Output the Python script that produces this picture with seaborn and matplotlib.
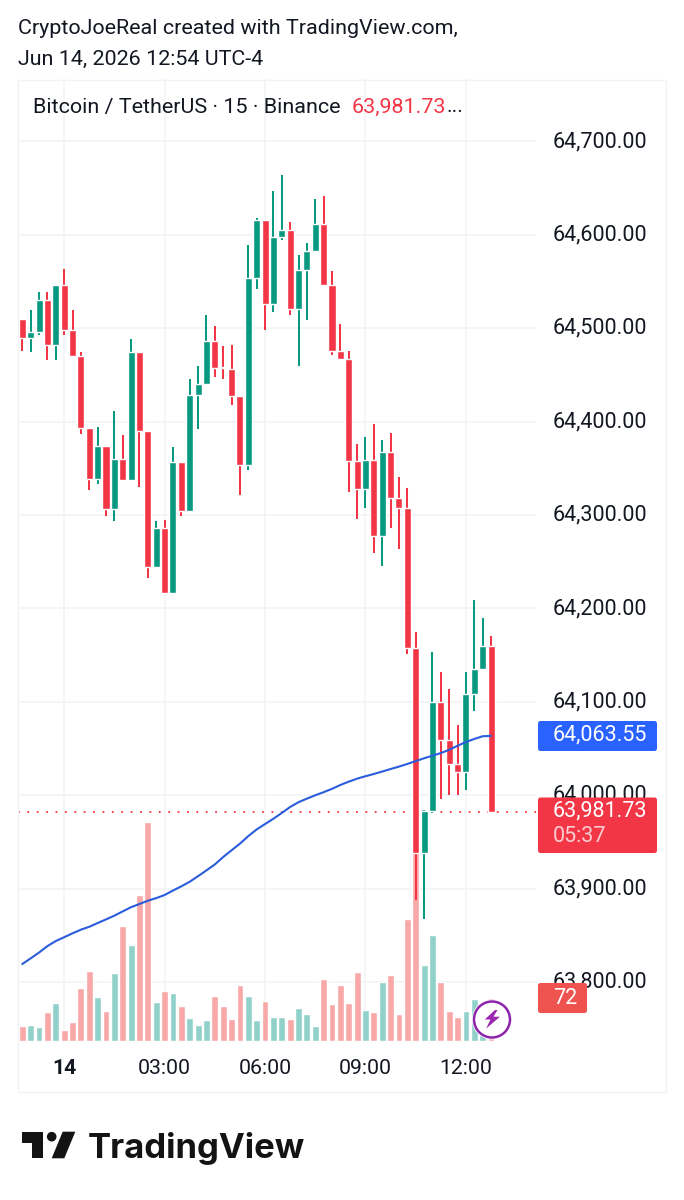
# Bitcoin / TetherUS 15m candles with volume and moving average
import numpy as np
import pandas as pd
import matplotlib.pyplot as plt
from matplotlib.patches import Rectangle, FancyBboxPatch, Circle, Polygon
from matplotlib.transforms import ScaledTranslation
import seaborn as sns

# chart values
open_ = [64510, 64490, 64496, 64530, 64482, 64546, 64498, 64470, 64393, 64339,
         64374, 64307, 64360, 64338, 64475, 64390, 64244, 64286, 64217, 64357,
         64304, 64429, 64440, 64486, 64459, 64456, 64428, 64354, 64554, 64616,
         64526, 64598, 64605, 64521, 64562, 64583, 64612, 64546, 64476, 64467,
         64358, 64328, 64359, 64278, 64368, 64318, 64308, 64158, 63938, 63983,
         64100, 64059, 64034, 64025, 64108, 64135, 64160]
high = [64510, 64520, 64539, 64539, 64546, 64563, 64520, 64475, 64393, 64394,
        64374, 64411, 64386, 64488, 64475, 64390, 64294, 64295, 64373, 64357,
        64446, 64460, 64514, 64502, 64481, 64482, 64428, 64589, 64618, 64616,
        64647, 64664, 64614, 64578, 64591, 64638, 64642, 64561, 64505, 64476,
        64376, 64384, 64398, 64380, 64388, 64341, 64329, 64175, 63984, 64153,
        64132, 64114, 64075, 64132, 64209, 64190, 64170]
low = [64476, 64475, 64493, 64466, 64466, 64493, 64470, 64387, 64327, 64333,
       64299, 64294, 64336, 64338, 64330, 64233, 64244, 64215, 64217, 64299,
       64304, 64392, 64440, 64448, 64446, 64418, 64322, 64348, 64542, 64498,
       64517, 64595, 64514, 64460, 64509, 64583, 64546, 64471, 64467, 64325,
       64296, 64308, 64259, 64245, 64286, 64264, 64151, 63888, 63867, 63981,
       63996, 64000, 64000, 64006, 64090, 64135, 63981.73]
close = [64490, 64496, 64530, 64482, 64546, 64498, 64470, 64393, 64339, 64374,
         64307, 64360, 64338, 64475, 64390, 64244, 64286, 64217, 64357, 64304,
         64429, 64440, 64486, 64458, 64457, 64428, 64354, 64554, 64616, 64526,
         64598, 64605, 64521, 64562, 64583, 64612, 64546, 64476, 64467, 64358,
         64328, 64359, 64278, 64368, 64318, 64308, 64158, 63938, 63983, 64100,
         64059, 64034, 64025, 64108, 64135, 64160, 63981.73]
volume = [25, 27, 23, 49, 64, 19, 31, 89, 118, 73, 51, 114, 193, 161, 244, 367,
          66, 83, 80, 59, 39, 27, 36, 76, 59, 37, 93, 76, 36, 67, 41, 41, 37, 55,
          45, 25, 104, 62, 93, 64, 116, 52, 49, 98, 110, 45, 204, 353, 128, 178,
          99, 50, 41, 50, 70, 56, 72]
ma = [63819.3, 63825.4, 63831.6, 63838.5, 63843.9, 63848.0, 63852.2, 63856.1,
      63859.2, 63863.2, 63867.1, 63871.1, 63875.7, 63880.2, 63883.6, 63887.1,
      63889.9, 63893.2, 63898.0, 63902.5, 63907.4, 63913.4, 63919.6, 63925.9,
      63933.9, 63941.1, 63948.2, 63956.3, 63963.4, 63969.2, 63974.9, 63981.0,
      63987.5, 63992.6, 63996.4, 64000.0, 64003.3, 64006.9, 64011.0, 64014.6,
      64017.8, 64020.4, 64022.8, 64025.4, 64028.1, 64030.7, 64033.5, 64036.6,
      64039.6, 64042.4, 64045.2, 64048.7, 64053.0, 64057.0, 64060.3, 64063.2,
      64063.55]
price_ticks = [64700, 64600, 64500, 64400, 64300, 64200, 64100, 64000, 63900, 63800]
time_pos = [5, 17, 29, 41, 53]
time_labels = ['14', '03:00', '06:00', '09:00', '12:00']
last_price = 63981.73

UP = '#089981'
DOWN = '#f23645'
GRID = '#f1f3f6'
TEXT = '#131722'

sns.set_theme(style='white')
plt.rcParams['font.family'] = ['Roboto', 'DejaVu Sans']

df = pd.DataFrame({'i': np.arange(len(close)), 'open': open_, 'high': high, 'low': low,
                   'close': close, 'volume': volume, 'ma': ma})
df['dir'] = np.where(df['close'] >= df['open'], 'up', 'down')

fig = plt.figure(figsize=(6.84, 12), dpi=100, facecolor='white')
W, H = 684, 1200
pos = [18 / W, (H - 1041) / H, 518 / W, 962 / H]
xlim = (-0.514, 61.37)
ylim = (63736.9, 64766.9)

# base axes: grid and tick labels
base = fig.add_axes(pos)
base.set_xlim(xlim)
base.set_ylim(ylim)
base.set_yticks(price_ticks)
base.set_yticklabels([f'{p:,.2f}' for p in price_ticks])
base.yaxis.tick_right()
base.set_xticks(time_pos)
base.set_xticklabels(time_labels)
base.tick_params(axis='y', length=0, pad=12, labelsize=15.5, labelcolor=TEXT)
base.tick_params(axis='x', length=0, pad=12.6, labelsize=15.3, labelcolor=TEXT)
base.get_xticklabels()[0].set_fontweight('bold')
# price labels sit a little above their gridlines
lift = ScaledTranslation(0, 2.5 / 100, fig.dpi_scale_trans)
for lab in base.get_yticklabels():
    lab.set_transform(lab.get_transform() + lift)
base.grid(True, color=GRID, lw=1.15)
sns.despine(ax=base, left=True, right=True, top=True, bottom=True)

# volume
vol_ax = fig.add_axes(pos)
vol_ax.patch.set_visible(False)
sns.barplot(data=df, x='i', y='volume', hue='dir', hue_order=['up', 'down'],
            palette={'up': '#91d1ca', 'down': '#f8a9a7'}, native_scale=True, dodge=False,
            width=0.82, saturation=1, legend=False, ax=vol_ax)
vol_ax.set_xlim(xlim)
vol_ax.set_ylim(0, 1611)
vol_ax.axis('off')

# candles and moving average
ax = fig.add_axes(pos)
ax.patch.set_visible(False)
colors = df['dir'].map({'up': UP, 'down': DOWN})
ax.vlines(df['i'], df['low'], df['high'], colors=colors, lw=1.45, zorder=2)
body_low = df[['open', 'close']].min(axis=1)
body_h = (df['open'] - df['close']).abs()
ax.bar(df['i'], body_h, bottom=body_low, width=0.84, color=colors, zorder=3)
ax.axhline(last_price, color=DOWN, lw=1.3, dashes=(1, 4.2), zorder=1)
sns.lineplot(data=df, x='i', y='ma', color='#2b5cdb', lw=1.5, ax=ax, zorder=4)
ax.set_xlim(xlim)
ax.set_ylim(ylim)
ax.axis('off')

# overlay in pixels for frame, header, tags and logo
ov = fig.add_axes([0, 0, 1, 1])
ov.patch.set_visible(False)
ov.set_xlim(0, W)
ov.set_ylim(H, 0)
ov.axis('off')

ov.add_patch(Rectangle((18, 79.5), 647.5, 1012.5, fill=False, ec=GRID, lw=1))

ov.text(18, 28.5, 'CryptoJoeReal created with TradingView.com,', fontsize=15.45, color=TEXT, va='center')
ov.text(18, 59.5, 'Jun 14, 2026 12:54 UTC-4', fontsize=15.45, color=TEXT, va='center')
ov.text(33, 107, 'Bitcoin / TetherUS · 15 · Binance', fontsize=15.45, color=TEXT, va='center')
ov.text(352, 107, '63,981.73', fontsize=15.45, color=DOWN, va='center')
ov.text(446.5, 107, '...', fontsize=15.45, color=TEXT, va='center')


def tag(x0, y0, x1, y1, color):
    ov.add_patch(FancyBboxPatch((x0, y0), x1 - x0, y1 - y0, boxstyle='round,pad=0,rounding_size=2.5',
                                fc=color, ec='none', zorder=5))


tag(538, 721, 657, 751, '#2962ff')
ov.text(553, 735, '64,063.55', fontsize=15.5, color='white', va='center', zorder=6)
tag(538, 797.5, 657, 853, DOWN)
ov.text(553, 811, f'{last_price:,.2f}', fontsize=15.5, color='white', va='center', zorder=6)
ov.text(553, 836, '05:37', fontsize=15.5, color='white', alpha=0.75, va='center', zorder=6)
tag(538, 983, 587, 1013, '#ef5350')
ov.text(553, 998, '72', fontsize=15.5, color='white', va='center', zorder=6)

# bolt badge
ov.add_patch(Circle((492, 1019.5), 20, fc='white', ec='none', zorder=7))
ov.add_patch(Circle((492, 1019.5), 18, fc='white', ec='#8e24aa', lw=1.8, zorder=8))
ov.add_patch(Polygon([(495, 1010), (484.7, 1019.5), (490.5, 1019.5), (486, 1028.7),
                      (500, 1016.7), (493.5, 1016.7), (497.5, 1010)],
                     fc='#9c27b0', ec='none', zorder=9))

# TradingView logo
LOGO = '#131313'
ov.add_patch(Polygon([(21.7, 1131.7), (43.3, 1131.7), (43.3, 1158.3), (32.3, 1158.3),
                      (32.3, 1142.7), (21.7, 1142.7)], fc=LOGO, ec='none'))
ov.add_patch(Circle((51.7, 1136.7), 4.8, fc=LOGO, ec='none'))
ov.add_patch(Polygon([(62.7, 1131.7), (75.3, 1131.7), (64.3, 1158.3), (51.7, 1158.3)], fc=LOGO, ec='none'))
ov.text(88, 1158.3, 'TradingView', fontsize=25, fontweight='bold', family=['Inter', 'DejaVu Sans'],
        color=LOGO, va='baseline')

fig.savefig('out.png', dpi=100, facecolor='white')
